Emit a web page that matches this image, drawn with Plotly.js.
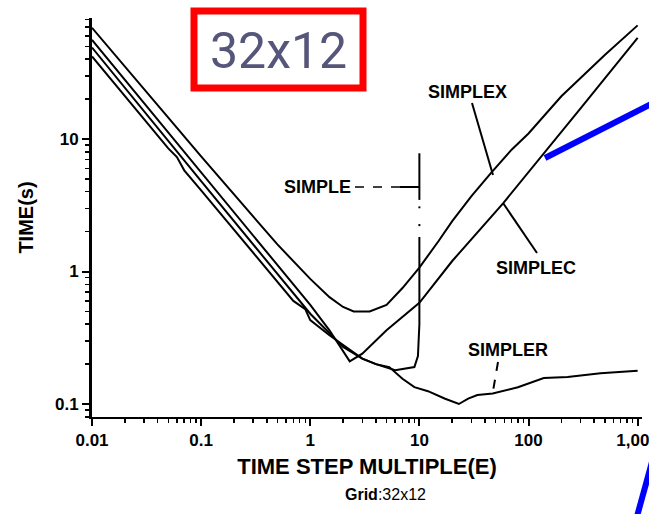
<!DOCTYPE html>
<html>
<head>
<meta charset="utf-8">
<script src="https://cdn.plot.ly/plotly-3.0.1.min.js"></script>
<style>html,body{margin:0;padding:0;background:#fff;}#chart{width:649px;height:514px;}</style>
</head>
<body>
<div id="chart"></div>
<script>
// ---- data ----
const simplexX = [0.01, 0.02, 0.05, 0.1, 0.2, 0.5, 1, 1.5, 2, 2.5, 3.5, 5, 7, 10, 15, 20, 30, 45, 70, 100, 200, 500, 1000];
const simplexY = [69, 35, 14.5, 7.4, 3.8, 1.6, 0.88, 0.64, 0.54, 0.5, 0.5, 0.56, 0.75, 1.07, 1.7, 2.4, 3.7, 5.5, 8.3, 11, 21, 43, 72];

const simplecX = [0.01, 0.1, 0.3, 1, 1.5, 2.3, 3, 5, 10, 20, 59, 100, 300, 1000];
const simplecY = [56, 5.6, 1.85, 0.56, 0.36, 0.21, 0.24, 0.36, 0.58, 1.2, 3.3, 5.6, 17, 58];

const simpleX = [0.01, 0.1, 1, 2, 3, 4, 6, 9, 9.7, 10, 10, null, 10, 10, null, 10, 10, null, 10, 10];
const simpleY = [49, 4.8, 0.48, 0.27, 0.22, 0.2, 0.18, 0.19, 0.23, 0.4, 1.82, null, 2.28, 2.2, null, 3.1, 3.0, null, 3.47, 7.8];

const simplerX = [0.01, 0.05, 0.06, 0.07, 0.1, 0.3, 0.7, 0.9, 1, 1.5, 2, 3, 4, 5.3, 7, 9, 12, 17, 23, 28, 34, 47, 80, 138, 228, 457, 1000];
const simplerY = [42, 8.5, 7.3, 5.8, 4.1, 1.4, 0.6, 0.52, 0.43, 0.33, 0.28, 0.22, 0.2, 0.19, 0.155, 0.134, 0.125, 0.11, 0.1, 0.11, 0.117, 0.12, 0.134, 0.157, 0.16, 0.171, 0.178];

const xTickVals = [0.01, 0.1, 1, 10, 100, 1000];
const xTickText = ['0.01', '0.1', '1', '10', '100', '1,000'];
const yTickVals = [0.1, 1, 10];
const yTickText = ['0.1', '1', '10'];

// ---- helpers ----
const M = {l: 92, r: 7, t: 18, b: 97};
const W = 649, H = 514;
const PW = W - M.l - M.r, PH = H - M.t - M.b;
const px = x => (x - M.l) / PW;       // pixel x -> paper x
const py = y => (H - M.b - y) / PH;   // pixel y -> paper y

function minorVals(d0, d1, extra) {
  const out = [];
  for (let d = d0; d <= d1; d++) for (let k = 2; k <= 9; k++) out.push(k * Math.pow(10, d));
  return out.concat(extra || []);
}

const lineStyle = {color: '#000', width: 2};
const traces = [
  {name: 'SIMPLEX', x: simplexX, y: simplexY},
  {name: 'SIMPLEC', x: simplecX, y: simplecY},
  {name: 'SIMPLE', x: simpleX, y: simpleY},
  {name: 'SIMPLER', x: simplerX, y: simplerY}
].map(t => Object.assign(t, {type: 'scatter', mode: 'lines', line: lineStyle, connectgaps: false, hoverinfo: 'x+y+name'}));

const FF = 'Liberation Sans, Arial, sans-serif';
const labFont = {family: FF, size: 18, color: '#000', weight: 'bold'};
const tickFont = {family: FF, size: 17, color: '#000', weight: 'bold'};

function seg(x0, y0, x1, y1, color, width, dash) {
  return {type: 'line', xref: 'paper', yref: 'paper', x0: px(x0), y0: py(y0), x1: px(x1), y1: py(y1),
          line: {color: color, width: width, dash: dash || 'solid'}};
}
function label(text, x, y, font, extra) {
  return Object.assign({text: text, xref: 'paper', yref: 'paper', x: px(x), y: py(y), showarrow: false,
          xanchor: 'center', yanchor: 'middle', font: font}, extra || {});
}

const layout = {
  width: W, height: H,
  margin: M,
  paper_bgcolor: '#fff', plot_bgcolor: '#fff',
  showlegend: false,
  xaxis: {
    type: 'log', range: [-2, 3.04], showgrid: false, zeroline: false,
    showline: true, linecolor: '#000', linewidth: 2,
    ticks: 'outside', ticklen: 7, tickwidth: 2, tickcolor: '#000',
    tickmode: 'array', tickvals: xTickVals, ticktext: xTickText, tickfont: tickFont,
    ticklabeloverflow: 'allow',
    minor: {tickmode: 'array', tickvals: minorVals(-2, 2), ticks: 'outside', ticklen: 4, tickwidth: 1.5, tickcolor: '#000', showgrid: false},
    title: {text: 'TIME STEP MULTIPLE(E)', standoff: 9, font: {family: FF, size: 22, color: '#000', weight: 'bold'}}
  },
  yaxis: {
    type: 'log', range: [-1.098, 1.913], showgrid: false, zeroline: false,
    showline: true, linecolor: '#000', linewidth: 3,
    ticks: 'outside', ticklen: 7, tickwidth: 2, tickcolor: '#000',
    tickmode: 'array', tickvals: yTickVals, ticktext: yTickText, tickfont: tickFont,
    minor: {tickmode: 'array', tickvals: minorVals(-1, 1, [0.08, 0.09]), ticks: 'outside', ticklen: 4, tickwidth: 1.5, tickcolor: '#000', showgrid: false},
    title: {text: 'TIME(s)', standoff: 16, font: {family: FF, size: 20, color: '#000', weight: 'bold'}}
  },
  shapes: [
    // red box with the grid size
    {type: 'rect', xref: 'paper', yref: 'paper', x0: px(194), x1: px(363), y0: py(88), y1: py(11),
     line: {color: '#ff0000', width: 7}, fillcolor: '#fff', layer: 'above'},
    // leaders
    seg(472, 103, 493, 175, '#000', 2),
    seg(537, 253, 503, 203, '#000', 2),
    seg(498, 362, 492, 397, '#000', 2, 'dash'),
    seg(355, 187, 402, 187, '#000', 1.5, 'dash'),
    seg(400, 187, 419, 187, '#000', 2),
    // blue slide strokes
    seg(545, 158, 655, 102, '#0000ff', 6),
    seg(652, 462, 636, 520, '#0000ff', 6)
  ],
  annotations: [
    label('32x12', 278, 51, {family: 'Roboto, sans-serif', size: 50, color: '#55567a'}),
    label('SIMPLEX', 467, 92, labFont),
    label('SIMPLEC', 536, 268, labFont),
    label('SIMPLER', 508, 350, labFont),
    label('SIMPLE', 317, 187, labFont),
    label('<b>Grid</b>:32x12', 385, 494, {family: FF, size: 16, color: '#000'})
  ]
};

Plotly.newPlot('chart', traces, layout, {staticPlot: true, displayModeBar: false});
</script>
</body>
</html>
